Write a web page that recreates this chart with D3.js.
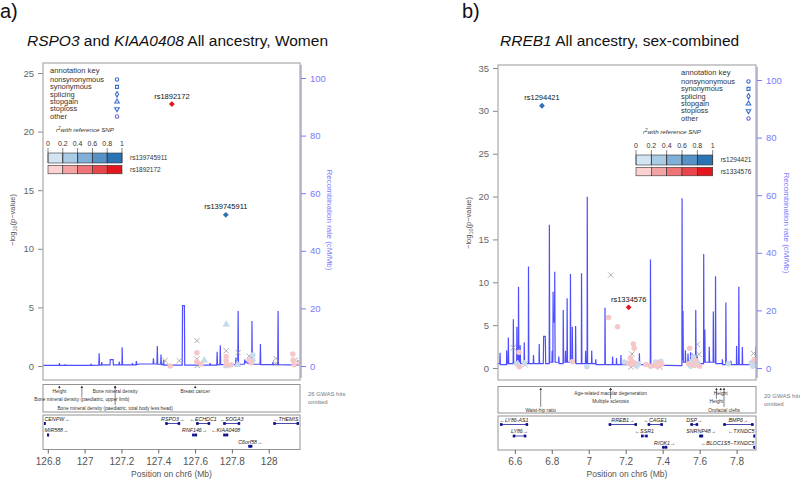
<!DOCTYPE html>
<html>
<head>
<meta charset="utf-8">
<script src="https://cdn.jsdelivr.net/npm/d3@7"></script>
<style>
body { margin: 0; background: #fff; }
svg { font-family: "Liberation Sans", Arial, sans-serif; }
text { white-space: pre; }
</style>
</head>
<body>
<script>
// ---- panel a: RSPO3 / KIAA0408 (women) ----
var aTitle = [["RSPO3", true], [" and ", false], ["KIAA0408", true], [" All ancestry, Women", false]];
var aXTicks = [126.8, 127, 127.2, 127.4, 127.6, 127.8, 128];
var aYTicks = [0, 5, 10, 15, 20, 25];
var aRefSnps = ["rs139745911", "rs1892172"];
var aLeadName = ["rs139745911", "rs1892172"];
var aLeadPos = [127.767, 127.474];
var aLeadLogP = [12.9, 22.35];
var aSnpPos = [127.437, 127.465, 127.514, 127.610, 127.610, 127.610, 127.610, 127.612, 127.633, 127.650,
    127.769, 127.769, 127.769, 127.769, 127.769, 127.771, 127.796, 127.834, 127.830, 127.894,
    127.894, 127.914, 127.914, 127.905, 128.039, 128.039, 128.131, 128.133, 128.144, 128.137, 128.168];
var aSnpLogP = [0.45, 0.0, 0.45, 2.16, 1.14, 0.6, 0.37, 0.05, 0.17, 0.5,
    3.55, 1.3, 0.8, 0.45, 0.1, 0.0, 0.1, 1.14, 0.1, 0.85,
    0.5, 0.94, 0.5, 0.28, 0.65, 0.2, 1.02, 0.5, 0.5, 0.1, 0.28];
var aSnpLd = ["n", "r", "n", "n", "r", "n", "r", "n", "r", "b",
    "b", "n", "r", "r", "r", "b", "r", "n", "b", "n",
    "r", "b", "b", "r", "n", "n", "r", "r", "n", "r", "r"];
var aSnpShape = ["x", "o", "x", "x", "o", "x", "o", "x", "o", "t",
    "t", "x", "o", "o", "o", "t", "o", "x", "t", "x",
    "o", "o", "o", "o", "x", "x", "o", "o", "x", "o", "o"];
// recombination rate (position Mb, cM/Mb)
var aRec = [[126.774, 0.2], [126.862, 0.2], [126.863, 1.0], [126.865, 0.2], [126.893, 0.2], [126.894, 0.6],
    [126.896, 0.2], [127.033, 0.2], [127.034, 0.8], [127.036, 0.2], [127.077, 0.3], [127.079, 4.4],
    [127.081, 0.3], [127.092, 0.3], [127.093, 1.4], [127.095, 0.4], [127.138, 0.4], [127.139, 2.2],
    [127.155, 2.2], [127.156, 0.4], [127.187, 0.4], [127.188, 1.5], [127.190, 0.4], [127.203, 0.4],
    [127.204, 6.5], [127.206, 0.4], [127.258, 0.4], [127.260, 1.0], [127.262, 0.4], [127.279, 0.4],
    [127.281, 1.7], [127.283, 0.5], [127.300, 0.7], [127.372, 0.7], [127.374, 2.7], [127.376, 0.7],
    [127.393, 0.7], [127.395, 6.9], [127.397, 0.6], [127.413, 0.6], [127.415, 4.0], [127.417, 0.5],
    [127.427, 0.5], [127.429, 2.0], [127.431, 0.3], [127.530, 0.3], [127.532, 21], [127.542, 21],
    [127.544, 0.3], [127.680, 0.3], [127.682, 1.0], [127.684, 0.3], [127.718, 0.3], [127.720, 4.9],
    [127.722, 0.5], [127.735, 0.5], [127.737, 7.2], [127.739, 0.5], [127.820, 0.5], [127.822, 2.9],
    [127.824, 0.5], [127.832, 0.5], [127.834, 19.1], [127.836, 0.6], [127.868, 0.6], [127.870, 2.2],
    [127.872, 1.2], [127.878, 1.5], [127.884, 1.0], [127.908, 0.6], [127.909, 15.6], [127.911, 0.6],
    [127.953, 0.6], [127.955, 7.6], [127.957, 0.5], [128.022, 0.5], [128.023, 1.4], [128.025, 0.5],
    [128.049, 0.5], [128.051, 19.1], [128.053, 0.5], [128.100, 0.4], [128.156, 0.4], [128.158, 2.0],
    [128.160, 0.4], [128.170, 0.4]];
var aGwasPos = [126.863, 126.985, 127.166, 127.166, 127.601];
var aGwasLabel = ["Height", "Bone mineral density (paediatric, upper limb)", "Bone mineral density",
    "Bone mineral density (paediatric, total body less head)", "Breast cancer"];
var aGwasRow = [0, 1, 0, 2, 0];
var aGwasOmitted = ["26 GWAS hits", "omitted"];
var aGeneName = ["CENPW", "MIR588", "RSPO3", "ECHDC1", "SOGA3", "THEMIS", "RNF146", "KIAA0408", "C6orf58"];
var aGeneStart = [126.777, 126.799, 127.438, 127.606, 127.753, 128.025, 127.584, 127.753, 127.889];
var aGeneEnd = [126.788, 126.804, 127.519, 127.682, 127.845, 128.171, 127.611, 127.780, 127.911];
var aGeneStrand = ["+", "+", "+", "-", "-", "-", "+", "-", "+"];
var aGeneRow = [0, 1, 0, 0, 0, 0, 1, 1, 2];

// ---- panel b: RREB1 (sex-combined) ----
var bTitle = [["RREB1", true], [" All ancestry, sex-combined", false]];
var bXTicks = [6.6, 6.8, 7, 7.2, 7.4, 7.6, 7.8];
var bYTicks = [0, 5, 10, 15, 20, 25, 30, 35];
var bRefSnps = ["rs1294421", "rs1334576"];
var bLeadName = ["rs1294421", "rs1334576"];
var bLeadPos = [6.747, 7.216];
var bLeadLogP = [30.6, 7.08];
var bSnpPos = [6.592, 6.623, 6.624, 6.652, 6.655, 6.611, 6.911, 7.119, 7.107, 7.156,
    7.192, 7.234, 7.241, 7.246, 7.225, 7.232, 7.238, 7.228, 7.245, 7.260,
    7.270, 7.355, 7.362, 7.370, 7.378, 7.385, 7.390, 7.395, 7.546, 7.588,
    7.540, 7.552, 7.560, 7.566, 7.572, 7.578, 7.590, 7.596, 7.600, 7.755,
    7.892, 7.880, 7.888, 7.895, 7.902, 7.310, 7.335, 6.990, 7.214];
var bSnpLogP = [2.37, 1.83, 0.15, 0.62, 0.4, 0.5, 0.74, 10.85, 5.9, 4.8,
    0.7, 1.63, 2.8, 2.3, 1.2, 0.8, 0.4, 0.1, 0.6, 0.2,
    0.5, 0.3, 0.7, 0.2, 0.6, 0.1, 0.8, 0.4, 2.3, 2.76,
    0.5, 0.2, 0.8, 1.3, 0.3, 0.9, 0.6, 1.6, 0.2, 0.5,
    1.7, 0.6, 0.2, 1.0, 0.3, 0.4, 0.2, 0.15, 0.55];
var bSnpLd = ["n", "r", "r", "b", "n", "b", "r", "n", "r", "r",
    "b", "n", "r", "r", "r", "r", "r", "n", "r", "b",
    "b", "r", "b", "r", "r", "n", "b", "r", "r", "n",
    "r", "b", "b", "b", "r", "r", "b", "n", "r", "b",
    "n", "b", "b", "r", "b", "r", "r", "b", "r"];
var bSnpShape = bSnpLd.map(function(d) { return d === "n" ? "x" : "o"; });
var bRec = [[6.509, 1.5], [6.519, 1.5], [6.520, 5.3], [6.522, 1.2], [6.555, 1.2], [6.556, 6.2], [6.558, 1.5],
    [6.564, 1.5], [6.565, 10.6], [6.567, 1.5], [6.591, 1.5], [6.592, 16.9], [6.594, 2], [6.610, 2],
    [6.611, 14.3], [6.613, 3], [6.619, 3], [6.620, 28.2], [6.622, 2], [6.628, 2], [6.629, 7.9],
    [6.631, 1.5], [6.650, 1.5], [6.651, 8.9], [6.653, 1.5], [6.673, 1.5], [6.674, 35.2], [6.676, 1.5],
    [6.700, 1.5], [6.701, 4.5], [6.703, 1.5], [6.731, 1.5], [6.732, 8.3], [6.734, 1.5], [6.754, 1.5],
    [6.756, 11], [6.765, 11], [6.767, 1.5], [6.786, 1.5], [6.787, 49.7], [6.789, 2], [6.801, 2],
    [6.802, 6], [6.804, 2], [6.806, 2], [6.807, 26.5], [6.809, 16], [6.815, 16], [6.816, 33.4],
    [6.818, 2], [6.837, 2], [6.838, 4], [6.840, 1.5], [6.861, 1.5], [6.862, 20.1], [6.864, 2],
    [6.873, 2], [6.874, 6], [6.876, 2], [6.882, 2], [6.883, 24.2], [6.885, 2], [6.900, 2],
    [6.901, 32.6], [6.903, 2], [6.910, 2], [6.911, 14.3], [6.913, 2], [6.928, 2], [6.929, 14.6],
    [6.931, 1.5], [6.960, 1.5], [6.961, 32.9], [6.963, 1.5], [6.982, 1.5], [6.983, 6], [6.985, 1.5],
    [6.991, 1.5], [6.992, 59.5], [6.994, 1.5], [7.015, 1.5], [7.016, 6], [7.018, 1.5], [7.037, 1.5],
    [7.038, 3], [7.040, 1.2], [7.087, 1.2], [7.088, 20.9], [7.090, 1.2], [7.128, 1.2], [7.129, 4],
    [7.131, 1.2], [7.149, 1.2], [7.150, 3.5], [7.152, 1.2], [7.173, 1.2], [7.174, 4.5], [7.176, 1.2],
    [7.273, 1.2], [7.274, 5.1], [7.276, 1.2], [7.333, 1.2], [7.334, 37.7], [7.336, 1.0], [7.500, 0.8],
    [7.504, 0.8], [7.505, 58.9], [7.507, 3], [7.509, 3], [7.510, 19.8], [7.512, 2], [7.522, 2],
    [7.523, 6.2], [7.525, 2], [7.536, 2], [7.537, 5], [7.539, 2], [7.550, 2], [7.551, 5.5],
    [7.553, 2], [7.560, 2], [7.561, 5], [7.563, 1.5], [7.578, 1.5], [7.579, 20.1], [7.581, 1.5],
    [7.587, 1.5], [7.588, 4], [7.590, 1.5], [7.621, 1.5], [7.622, 39.6], [7.624, 2], [7.627, 2],
    [7.628, 13.4], [7.630, 2], [7.651, 2], [7.652, 7.4], [7.654, 2], [7.673, 2], [7.674, 19.6],
    [7.676, 2], [7.685, 2], [7.686, 31.9], [7.688, 1.5], [7.722, 1.5], [7.723, 3], [7.725, 1.2],
    [7.741, 1.2], [7.742, 22.7], [7.744, 1.2], [7.768, 1.2], [7.769, 2.5], [7.771, 1.2], [7.799, 1.2],
    [7.800, 7.6], [7.802, 1.2], [7.811, 1.2], [7.812, 28.2], [7.814, 1.2], [7.830, 1.2], [7.831, 7.3],
    [7.833, 1.2], [7.900, 1.2], [7.905, 7.5]];
var bGwasPos = [6.740, 7.118, 7.118, 7.714, 7.691, 7.732];
var bGwasLabel = ["Waist-hip ratio", "Age-related macular degeneration", "Multiple sclerosis",
    "Height", "Height", "Orofacial clefts"];
var bGwasRow = [2, 0, 1, 0, 1, 2];
var bGwasOmitted = ["20 GWAS hits", "omitted"];
var bGeneName = ["LY86-AS1", "LY86", "RREB1", "CAGE1", "DSP", "BMP6", "SSR1", "SNRNP48", "TXNDC5",
    "RIOK1", "BLOC1S5\u2212TXNDC5"];
var bGeneStart = [6.520, 6.589, 7.108, 7.319, 7.550, 7.728, 7.283, 7.597, 7.892, 7.397, 7.892];
var bGeneEnd = [6.672, 6.662, 7.261, 7.401, 7.592, 7.892, 7.319, 7.619, 7.920, 7.425, 7.920];
var bGeneStrand = ["-", "+", "+", "-", "+", "+", "-", "+", "-", "+", "-"];
var bGeneRow = [0, 1, 0, 0, 0, 0, 1, 1, 1, 2, 2];

// shared
var recTicks = [0, 20, 40, 60, 80, 100];
var ldTicks = [0, 0.2, 0.4, 0.6, 0.8, 1];
var annotKeys = ["nonsynonymous", "synonymous", "splicing", "stopgain", "stoploss", "other"];

// colours
var blueLd = ["#d3e4f3", "#aacbe6", "#80afd7", "#5692c6", "#2b74b4"];
var redLd = ["#fad2d2", "#f4a3a5", "#ee7477", "#e8464b", "#e3171d"];
var recColor = "#2222ff";
var recAxisColor = "#7a7aff";

var svg = d3.select("body").append("svg")
    .attr("width", 800)
    .attr("height", 480);

function drawPanel(p) {
    var b = p.box;
    var x = d3.scaleLinear().domain(p.xDomain).range([b.x, b.x + b.w]);
    var y = d3.scaleLinear().domain([0, d3.max(p.yTicks)]).range([p.y0, p.yTop]);
    var rec = d3.scaleLinear().domain([0, 100]).range([p.y0, p.recTop]);
    var g = svg.append("g");

    g.append("text").attr("x", p.letterX).attr("y", 18)
        .attr("font-size", 20).attr("fill", "#111").text(p.letter);
    g.append("text").attr("x", p.titleX).attr("y", 45.5)
        .attr("font-size", 15.5).attr("fill", "#111")
        .selectAll("tspan").data(p.title).enter().append("tspan")
        .attr("font-style", function(d) { return d[1] ? "italic" : "normal"; })
        .text(function(d) { return d[0]; });

    var clipId = "clip-" + p.id;
    g.append("clipPath").attr("id", clipId).append("rect")
        .attr("x", b.x).attr("y", b.y).attr("width", b.w).attr("height", b.h);

    // axes
    var la = g.append("g").attr("transform", "translate(" + b.x + ",0)")
        .call(d3.axisLeft(y).tickValues(p.yTicks).tickSize(5).tickPadding(4));
    la.select(".domain").remove();
    la.selectAll("line").attr("stroke", "#888");
    la.selectAll("text").attr("fill", "#666").attr("font-size", 9.5)
        .attr("font-family", "Liberation Sans, Arial, sans-serif");

    var ra = g.append("g").attr("transform", "translate(" + (b.x + b.w + 1) + ",0)")
        .call(d3.axisRight(rec).tickValues(recTicks).tickSize(5).tickPadding(4).tickSizeOuter(0));
    ra.select(".domain").attr("stroke", recAxisColor).attr("d",
        "M0," + (b.y + 2) + "V" + (b.y + b.h - 2));
    ra.selectAll("line").attr("stroke", recAxisColor);
    ra.selectAll("text").attr("fill", recAxisColor).attr("font-size", 9.5)
        .attr("font-family", "Liberation Sans, Arial, sans-serif");

    var ly = g.append("text")
        .attr("transform", "translate(" + p.yLabelX + "," + p.labelY + ") rotate(-90)")
        .attr("text-anchor", "middle").attr("font-size", 7.5).attr("fill", "#555");
    ly.append("tspan").text("\u2212log");
    ly.append("tspan").attr("font-size", 5.5).attr("dy", 1.5).text("10");
    ly.append("tspan").attr("dy", -1.5).text("(p\u2212value)");

    g.append("text")
        .attr("transform", "translate(" + p.recLabelX + "," + p.labelY + ") rotate(90)")
        .attr("text-anchor", "middle").attr("font-size", 8).attr("fill", recAxisColor)
        .text("Recombination rate (cM/Mb)");

    // recombination line
    var line = d3.line()
        .x(function(d) { return x(d[0]); })
        .y(function(d) { return rec(d[1]); });
    g.append("path").datum(p.rec)
        .attr("clip-path", "url(#" + clipId + ")")
        .attr("d", line).attr("fill", "none")
        .attr("stroke", recColor).attr("stroke-opacity", 0.8).attr("stroke-width", 1.2);

    // snps
    var snps = p.snpPos.map(function(d, i) {
        return {pos: d, lp: p.snpLogP[i], ld: p.snpLd[i], shape: p.snpShape[i]};
    });
    var order = {n: 0, b: 1, r: 2};
    snps.sort(function(a, c) { return order[a.ld] - order[c.ld]; });
    var sg = g.append("g").attr("clip-path", "url(#" + clipId + ")");
    snps.forEach(function(s) {
        var cx = x(s.pos), cy = y(s.lp);
        if (s.shape === "x") {
            sg.append("path")
                .attr("d", "M" + (cx - 2.6) + "," + (cy - 2.6) + "L" + (cx + 2.6) + "," + (cy + 2.6) +
                    "M" + (cx - 2.6) + "," + (cy + 2.6) + "L" + (cx + 2.6) + "," + (cy - 2.6))
                .attr("stroke", "#999").attr("stroke-width", 0.8);
        } else {
            var sym = s.shape === "t" ? d3.symbolTriangle : d3.symbolCircle;
            sg.append("path")
                .attr("transform", "translate(" + cx + "," + cy + ")")
                .attr("d", d3.symbol().type(sym).size(s.shape === "t" ? 26 : 24)())
                .attr("fill", s.ld === "r" ? "#f6c7c7" : "#c8dcee");
        }
    });

    // lead snps (square turned 45 degrees)
    p.leadName.forEach(function(name, i) {
        var cx = x(p.leadPos[i]), cy = y(p.leadLogP[i]);
        g.append("path").attr("transform", "translate(" + cx + "," + cy + ") rotate(45)")
            .attr("d", d3.symbol().type(d3.symbolSquare).size(17)())
            .attr("fill", i === 0 ? blueLd[4] : redLd[4]);
        g.append("text").attr("x", cx).attr("y", cy - 5.5)
            .attr("text-anchor", "middle").attr("font-size", 7.5).attr("fill", "#111")
            .text(name);
    });

    // plot box
    g.append("rect").attr("x", b.x).attr("y", b.y).attr("width", b.w).attr("height", b.h)
        .attr("fill", "none").attr("stroke", "#aaa").attr("stroke-width", 1.2);

    // legend (text widened a little so it stays short enough not to collide)
    var L = p.legend;
    g.append("text").attr("transform", "translate(" + L.x + "," + L.y + ") scale(1.12,1)")
        .attr("font-size", 6.8).attr("fill", "#333").text("annotation key");
    var keySyms = [d3.symbolCircle, d3.symbolSquare, d3.symbolDiamond, d3.symbolTriangle,
        d3.symbolTriangle, d3.symbolCircle];
    annotKeys.forEach(function(k, i) {
        var ty = L.y + 9.3 + i * 7.4;
        g.append("text").attr("transform", "translate(" + L.x + "," + ty + ") scale(1.18,1)")
            .attr("font-size", 6.3).attr("fill", "#333").text(k);
        g.append("path")
            .attr("transform", "translate(" + L.symX + "," + (ty - 2.3) + ")" + (i === 4 ? " rotate(180)" : ""))
            .attr("d", d3.symbol().type(keySyms[i]).size(9)())
            .attr("fill", "#fff").attr("stroke", i === 5 ? "#6a6ad8" : "#3a6fd0").attr("stroke-width", 1.1);
    });
    var r2 = g.append("text").attr("x", L.r2X).attr("y", L.y + 59.5)
        .attr("font-size", 6.2).attr("font-style", "italic").attr("fill", "#333");
    r2.append("tspan").text("r");
    r2.append("tspan").attr("font-size", 4.5).attr("dy", -2.2).text("2");
    r2.append("tspan").attr("dy", 2.2).text("with reference SNP");

    var ls = d3.scaleLinear().domain([0, 1]).range([L.barX, L.barX + L.barW]);
    g.selectAll(null).data(ldTicks).enter().append("text")
        .attr("x", function(d) { return ls(d); }).attr("y", L.y + 73.8)
        .attr("text-anchor", "middle").attr("font-size", 7).attr("fill", "#333")
        .text(function(d) { return d; });
    [blueLd, redLd].forEach(function(cols, j) {
        var by = L.y + 80.5 + j * 12.3;
        var bh = j === 0 ? 10 : 8.5;
        g.selectAll(null).data(cols).enter().append("rect")
            .attr("x", function(d, i) { return ls(ldTicks[i]); })
            .attr("y", by)
            .attr("width", ls(0.2) - ls(0))
            .attr("height", bh)
            .attr("fill", function(d) { return d; })
            .attr("stroke", "#333").attr("stroke-width", 0.6);
        g.append("text").attr("x", L.barX + L.barW + 8).attr("y", by + 7)
            .attr("font-size", 6.5).attr("fill", "#333").text(p.refSnps[j]);
    });
    g.selectAll(null).data(ldTicks).enter().append("line")
        .attr("x1", function(d) { return ls(d); }).attr("x2", function(d) { return ls(d); })
        .attr("y1", L.y + 75.5).attr("y2", L.y + 90.5)
        .attr("stroke", "#333").attr("stroke-width", 0.6);

    // gwas catalog box
    var gb = p.gwasBox;
    g.append("rect").attr("x", b.x).attr("y", gb.y).attr("width", b.w).attr("height", gb.h)
        .attr("fill", "none").attr("stroke", "#888").attr("stroke-width", 0.9);
    var rowY = [gb.y + 8.5, gb.y + 16.8, gb.y + 25];
    p.gwasPos.forEach(function(d, i) {
        var gx = x(d), ty = rowY[p.gwasRow[i]];
        g.append("line").attr("x1", gx).attr("x2", gx).attr("y1", gb.y + 2).attr("y2", ty - 4.5)
            .attr("stroke", "#333").attr("stroke-width", 0.6);
        g.append("path").attr("d", "M" + gx + "," + (gb.y + 1.3) + "l-1.3,2.2h2.6z").attr("fill", "#333");
        g.append("text").attr("x", gx).attr("y", ty).attr("text-anchor", "middle")
            .attr("font-size", 4.8).attr("fill", "#333").text(p.gwasLabel[i]);
    });
    p.gwasOmitted.forEach(function(t, i) {
        g.append("text").attr("x", b.x + b.w + 8).attr("y", gb.y + 11 + i * 8.5)
            .attr("font-size", 6).attr("fill", "#777").text(t);
    });

    // gene box
    var gn = p.geneBox;
    g.append("rect").attr("x", b.x).attr("y", gn.y).attr("width", b.w).attr("height", gn.h)
        .attr("fill", "none").attr("stroke", "#888").attr("stroke-width", 0.9);
    var gRows = [gn.y + 8.5, gn.y + 20, gn.y + 31.3];
    p.geneName.forEach(function(name, i) {
        var x1 = Math.max(b.x + 1, x(p.geneStart[i]));
        var x2 = Math.min(b.x + b.w - 1, x(p.geneEnd[i]));
        var gy = gRows[p.geneRow[i]];
        g.append("line").attr("x1", x1).attr("x2", x2).attr("y1", gy).attr("y2", gy)
            .attr("stroke", "#1a1a9a").attr("stroke-width", 0.8);
        var ew = Math.min(2.5, Math.max(1.5, x2 - x1));
        g.append("rect").attr("x", x1).attr("y", gy - 1.4).attr("width", ew).attr("height", 2.8)
            .attr("fill", "#10108a");
        g.append("rect").attr("x", x2 - ew).attr("y", gy - 1.4).attr("width", ew).attr("height", 2.8)
            .attr("fill", "#10108a");
        var label = p.geneStrand[i] === "+" ? name + "\u2192" : "\u2190" + name;
        var t = g.append("text").attr("y", gy - 2.6).attr("text-anchor", "middle")
            .attr("font-size", 5.3).attr("font-style", "italic").attr("fill", "#222").text(label);
        var w = t.node().getComputedTextLength();
        var cx = (x1 + x2) / 2;
        cx = Math.max(b.x + w / 2 + 1.5, Math.min(b.x + b.w - w / 2 - 1.5, cx));
        t.attr("x", cx);
    });

    // x axis
    var xa = g.append("g").attr("transform", "translate(0," + (gn.y + gn.h) + ")")
        .call(d3.axisBottom(x).tickValues(p.xTicks).tickSize(4).tickPadding(4)
            .tickFormat(function(d) { return String(d); }));
    xa.select(".domain").remove();
    xa.selectAll("line").attr("stroke", "#666");
    xa.selectAll("text").attr("fill", "#555").attr("font-size", 10)
        .attr("font-family", "Liberation Sans, Arial, sans-serif");
    g.append("text").attr("x", b.x + b.w / 2).attr("y", 477)
        .attr("text-anchor", "middle").attr("font-size", 8.5).attr("fill", "#555")
        .text("Position on chr6 (Mb)");
}

drawPanel({
    id: "a", letter: "a)", letterX: 0, title: aTitle, titleX: 27,
    box: {x: 43, y: 63, w: 257, h: 317},
    xDomain: [126.774, 128.17], xTicks: aXTicks, yTicks: aYTicks,
    y0: 366, yTop: 73, recTop: 78,
    yLabelX: 15, recLabelX: 327, labelY: 220,
    rec: aRec, snpPos: aSnpPos, snpLogP: aSnpLogP, snpLd: aSnpLd, snpShape: aSnpShape,
    leadName: aLeadName, leadPos: aLeadPos, leadLogP: aLeadLogP, refSnps: aRefSnps,
    legend: {x: 50, y: 72.5, symX: 117, r2X: 56, barX: 48, barW: 74},
    gwasBox: {y: 384.5, h: 27.5}, gwasPos: aGwasPos, gwasLabel: aGwasLabel, gwasRow: aGwasRow,
    gwasOmitted: aGwasOmitted,
    geneBox: {y: 415, h: 34.5}, geneName: aGeneName, geneStart: aGeneStart, geneEnd: aGeneEnd,
    geneStrand: aGeneStrand, geneRow: aGeneRow
});

drawPanel({
    id: "b", letter: "b)", letterX: 462, title: bTitle, titleX: 500,
    box: {x: 498, y: 65, w: 258, h: 315},
    xDomain: [6.509, 7.905], xTicks: bXTicks, yTicks: bYTicks,
    y0: 368, yTop: 68, recTop: 80,
    yLabelX: 471, recLabelX: 784, labelY: 223,
    rec: bRec, snpPos: bSnpPos, snpLogP: bSnpLogP, snpLd: bSnpLd, snpShape: bSnpShape,
    leadName: bLeadName, leadPos: bLeadPos, leadLogP: bLeadLogP, refSnps: bRefSnps,
    legend: {x: 681, y: 74.5, symX: 748.5, r2X: 643, barX: 636, barW: 76.7},
    gwasBox: {y: 386.5, h: 26.5}, gwasPos: bGwasPos, gwasLabel: bGwasLabel, gwasRow: bGwasRow,
    gwasOmitted: bGwasOmitted,
    geneBox: {y: 416, h: 34}, geneName: bGeneName, geneStart: bGeneStart, geneEnd: bGeneEnd,
    geneStrand: bGeneStrand, geneRow: bGeneRow
});
</script>
</body>
</html>
